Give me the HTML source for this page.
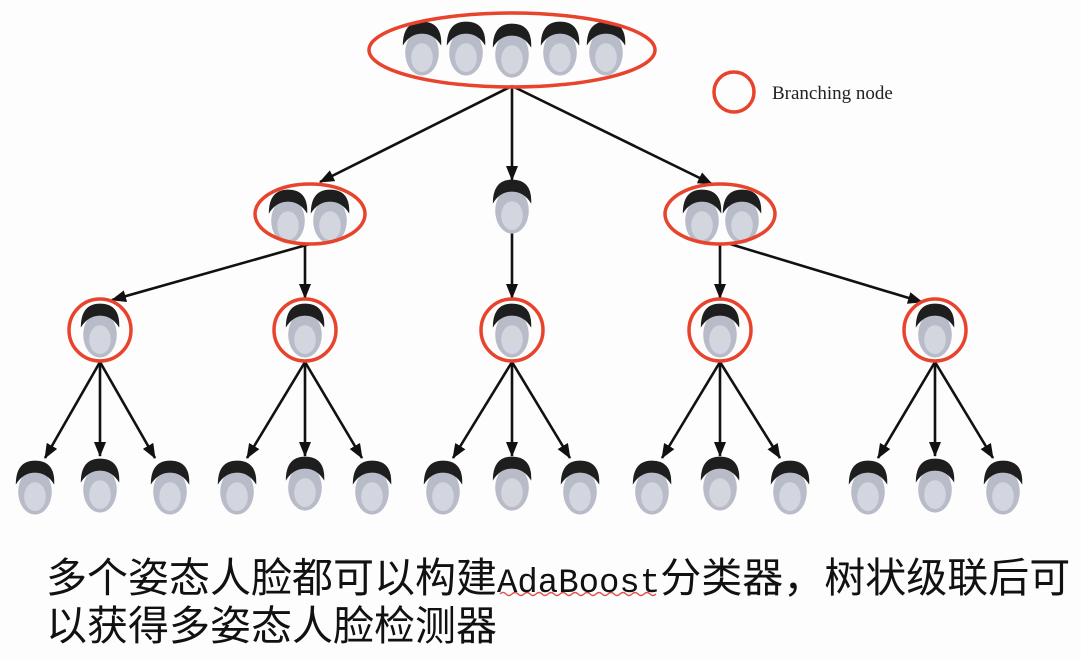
<!DOCTYPE html>
<html><head><meta charset="utf-8"><style>
html,body{margin:0;padding:0;background:#fff;}
.t{position:absolute;left:46px;font-family:"Noto Sans CJK SC",sans-serif;font-size:41px;color:#111;line-height:48px;white-space:nowrap;}
.m{font-family:"Liberation Mono",monospace;font-size:34px;}
</style></head><body>
<div style="position:relative;width:1081px;height:660px;overflow:hidden;background:#fdfdfd;">
<svg width="1081" height="660" style="position:absolute;left:0;top:0">
<defs>
<marker id="a" markerWidth="20" markerHeight="20" refX="14" refY="6" orient="auto" markerUnits="userSpaceOnUse"><path d="M0,0 L15,6 L0,12 Z" fill="#111"/></marker>
<g id="f" transform="scale(1.2)"><ellipse cx="0" cy="4" rx="14" ry="19" fill="#b7bcc8"/><path d="M-16,-2 Q-16,-22 0,-22 Q17,-22 16,-2 Q10,-12 0,-12 Q-10,-12 -16,-2Z" fill="#1e1e1e"/><ellipse cx="0" cy="8" rx="9" ry="12" fill="#d3d6de"/></g>
</defs>
<g stroke="#111" stroke-width="2.6" fill="none" marker-end="url(#a)">
<line x1="512" y1="86" x2="320" y2="182"/><line x1="512" y1="86" x2="512" y2="180"/><line x1="512" y1="86" x2="712" y2="184"/>
<line x1="310" y1="244" x2="112" y2="300"/><line x1="305" y1="244" x2="305" y2="298"/>
<line x1="512" y1="232" x2="512" y2="298"/>
<line x1="720" y1="244" x2="720" y2="298"/><line x1="730" y1="244" x2="922" y2="302"/>
<line x1="100" y1="362" x2="45" y2="458"/><line x1="100" y1="362" x2="100" y2="456"/><line x1="100" y1="362" x2="155" y2="458"/>
<line x1="305" y1="362" x2="247" y2="458"/><line x1="305" y1="362" x2="305" y2="456"/><line x1="305" y1="362" x2="362" y2="458"/>
<line x1="512" y1="362" x2="453" y2="458"/><line x1="512" y1="362" x2="512" y2="456"/><line x1="512" y1="362" x2="570" y2="458"/>
<line x1="720" y1="362" x2="662" y2="458"/><line x1="720" y1="362" x2="720" y2="456"/><line x1="720" y1="362" x2="780" y2="458"/>
<line x1="935" y1="362" x2="878" y2="458"/><line x1="935" y1="362" x2="935" y2="456"/><line x1="935" y1="362" x2="993" y2="458"/>
</g>
<g>
<use href="#f" x="422" y="48"/><use href="#f" x="466" y="48"/><use href="#f" x="512" y="50"/><use href="#f" x="560" y="48"/><use href="#f" x="606" y="48"/>
<use href="#f" x="288" y="216"/><use href="#f" x="330" y="216"/><use href="#f" x="512" y="206"/><use href="#f" x="702" y="216"/><use href="#f" x="742" y="216"/>
<use href="#f" x="100" y="330"/><use href="#f" x="305" y="330"/><use href="#f" x="512" y="330"/><use href="#f" x="720" y="330"/><use href="#f" x="935" y="330"/>
<use href="#f" x="35" y="487"/><use href="#f" x="100" y="485"/><use href="#f" x="170" y="487"/>
<use href="#f" x="237" y="487"/><use href="#f" x="305" y="483"/><use href="#f" x="372" y="487"/>
<use href="#f" x="443" y="487"/><use href="#f" x="512" y="483"/><use href="#f" x="580" y="487"/>
<use href="#f" x="652" y="487"/><use href="#f" x="720" y="483"/><use href="#f" x="790" y="487"/>
<use href="#f" x="868" y="487"/><use href="#f" x="935" y="485"/><use href="#f" x="1003" y="487"/>
</g>
<g fill="none" stroke="#e8432c" stroke-width="3.5">
<ellipse cx="512" cy="50" rx="143" ry="37"/>
<ellipse cx="310" cy="214" rx="55" ry="30"/><ellipse cx="720" cy="214" rx="55" ry="30"/>
<circle cx="100" cy="330" r="31"/><circle cx="305" cy="330" r="31"/><circle cx="512" cy="330" r="31"/><circle cx="720" cy="330" r="31"/><circle cx="935" cy="330" r="31"/>
<circle cx="734" cy="92" r="20"/>
</g>
<text x="772" y="99" font-family="Liberation Serif,serif" font-size="19" fill="#222">Branching node</text>
<path d="M500,594 q3,-3 6,0 t6,0 t6,0 t6,0 t6,0 t6,0 t6,0 t6,0 t6,0 t6,0 t6,0 t6,0 t6,0 t6,0 t6,0 t6,0 t6,0 t6,0 t6,0 t6,0 t6,0 t6,0 t6,0 t6,0 t6,0 t6,0" stroke="#e05050" stroke-width="1.3" fill="none"/>
</svg>
<div class="t" style="top:550px">多个姿态人脸都可以构建<span class="m">AdaBoost</span>分类器，树状级联后可</div>
<div class="t" style="top:598px">以获得多姿态人脸检测器</div>
</div>
</body></html>
